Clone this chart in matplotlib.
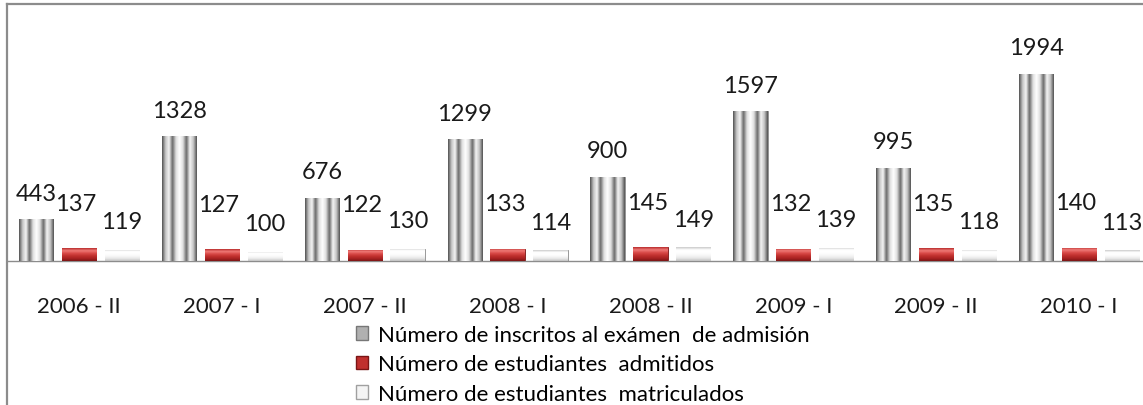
import numpy as np
import matplotlib.pyplot as plt
from matplotlib.colors import LinearSegmentedColormap
from matplotlib.lines import Line2D
from matplotlib.patches import Patch

periodos = ['2006 - II', '2007 - I', '2007 - II', '2008 - I',
            '2008 - II', '2009 - I', '2009 - II', '2010 - I']
inscritos = [443, 1328, 676, 1299, 900, 1597, 995, 1994]
admitidos = [137, 127, 122, 133, 145, 132, 135, 140]
matriculados = [119, 100, 130, 114, 149, 139, 118, 113]

series_labels = ['Número de inscritos al exámen  de admisión',
                 'Número de estudiantes  admitidos',
                 'Número de estudiantes  matriculados']

plt.rcParams['font.family'] = ['Lato', 'DejaVu Sans']

W, H = 1143, 406
fig = plt.figure(figsize=(W / 100, H / 100), dpi=100)
ax = fig.add_axes([7.6 / W, (H - 262) / H, (W - 7.6) / W, 257 / H])

x = np.arange(len(periodos))
w = 0.24
off = 0.3

b1 = ax.bar(x - off, inscritos, w, color='#b5b5b5', zorder=2)
b2 = ax.bar(x, admitidos, w, color='#c0392b', zorder=2)
b3 = ax.bar(x + off, matriculados, w, color='#f2f2f2', zorder=2)

# relleno tipo cilindro / bisel
cm_gris = LinearSegmentedColormap.from_list('gris', [
    '#505050', '#c4c4c4', '#f4f4f4', '#6a6a6a', '#dedede', '#ffffff',
    '#dedede', '#6a6a6a', '#f4f4f4', '#c4c4c4', '#505050'])
cm_rojo = LinearSegmentedColormap.from_list('rojo', [
    '#7a1515', '#a82222', '#c0302e', '#d94a48', '#ef7b78', '#b72a2a'])
cm_claro = LinearSegmentedColormap.from_list('claro', [
    '#bfbfbf', '#e6e6e6', '#f7f7f7', '#ffffff', '#ffffff', '#c8c8c8'])

horiz = np.linspace(0, 1, 256).reshape(1, -1)
vert = np.linspace(0, 1, 256).reshape(-1, 1)

for bars, cmap, grad in [(b1, cm_gris, horiz), (b2, cm_rojo, vert), (b3, cm_claro, vert)]:
    for bar in bars:
        x0, y0 = bar.get_x(), bar.get_y()
        x1, y1 = x0 + bar.get_width(), y0 + bar.get_height()
        im = ax.imshow(grad, cmap=cmap, extent=(x0, x1, y0, y1), origin='lower',
                       aspect='auto', zorder=3, interpolation='bilinear')
        im.set_clip_path(bar)
        bar.set_edgecolor('#8a8a8a' if cmap is not cm_rojo else '#7a1515')
        bar.set_linewidth(0.6)

ax.set_xlim(-0.5, (W - 7.6) / (1000 / 7) - 0.5)
ax.set_ylim(0, 2740)

# etiquetas de datos
for xi, v in zip(x, inscritos):
    ax.annotate(str(v), (xi - off, v), xytext=(0, 26), textcoords='offset pixels',
                ha='center', va='center', fontsize=17, color='#1a1a1a')
for xi, v in zip(x, admitidos):
    ax.annotate(str(v), (xi, v), xytext=(-3, 45), textcoords='offset pixels',
                ha='center', va='center', fontsize=17, color='#1a1a1a')
for xi, v in zip(x, matriculados):
    ax.annotate(str(v), (xi + off, v), xytext=(0, 28), textcoords='offset pixels',
                ha='center', va='center', fontsize=17, color='#1a1a1a')

ax.set_xticks(x, periodos, fontsize=16, color='#1a1a1a')
ax.tick_params(axis='x', length=0, pad=25)
ax.set_yticks([])
for s in ['top', 'right', 'left']:
    ax.spines[s].set_visible(False)
ax.spines['bottom'].set_color('#8c8c8c')
ax.spines['bottom'].set_linewidth(1)

handles = [Patch(facecolor='#b0b0b0', edgecolor='#777777'),
           Patch(facecolor='#c0302e', edgecolor='#7a1515'),
           Patch(facecolor='#f4f4f4', edgecolor='#a0a0a0')]
fig.legend(handles, series_labels, loc='upper left',
           bbox_to_anchor=(356 / W, 1 - 326 / H), frameon=False, fontsize=16,
           handlelength=0.55, handleheight=0.55, handletextpad=0.45,
           labelspacing=0.42, borderpad=0, borderaxespad=0)

# borde del gráfico
fig.add_artist(Line2D([7 / W, 1], [1 - 5 / H, 1 - 5 / H], color='#8c8c8c', lw=1.6))
fig.add_artist(Line2D([7 / W, 7 / W], [0, 1 - 5 / H], color='#8c8c8c', lw=1.6))

fig.savefig('out.png', dpi=100)
